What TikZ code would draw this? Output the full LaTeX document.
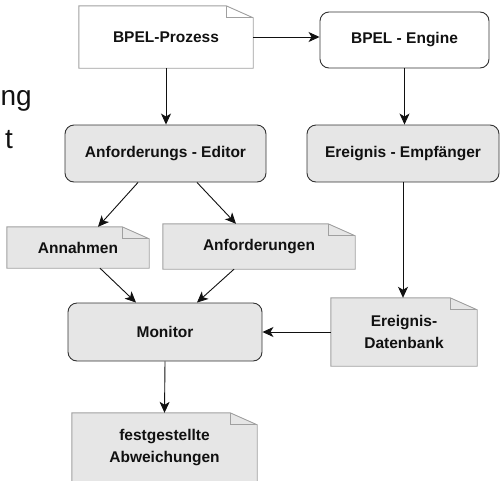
\documentclass[tikz,border=0pt]{standalone}
\usepackage{fontspec}
\setmainfont{Liberation Sans}
\usetikzlibrary{arrows.meta,backgrounds,positioning}

\definecolor{boxgray}{HTML}{E6E6E6}
\definecolor{docline}{HTML}{A0A0A0}
\definecolor{boxline}{HTML}{333333}
\definecolor{textdark}{HTML}{111111}

\tikzset{
  boxtext/.style={font=\fontsize{15.5}{22}\selectfont\bfseries, align=center, inner sep=0pt, text=textdark},
  roundbox/.style={boxtext, draw=boxline, line width=0.9pt, rounded corners=9pt, fill=boxgray},
  docbox/.style={boxtext},
  flow/.style={draw=textdark, line width=0.9pt, -{Stealth[length=11pt,width=10pt,inset=3pt]}}
}

\begin{document}
\begin{tikzpicture}[x=1pt,y=-1pt]

\useasboundingbox (0,0) rectangle (500,480);

%------------------------
% Cut-off slide text (left)
%------------------------
\node[font=\fontsize{28}{34}\selectfont, text=textdark, anchor=base east, inner sep=0pt] (cutng) at (32,105) {ng};
\node[font=\fontsize{28}{34}\selectfont, text=textdark, anchor=base east, inner sep=0pt] (cutt) at (13,148) {t};

%------------------------
% Rounded boxes
%------------------------
\node[roundbox, fill=white, minimum width=169pt, minimum height=56pt] (engine) at (404.5,40) {BPEL - Engine};
\node[roundbox, minimum width=201pt, minimum height=57pt] (editor) at (165.5,153.5) {Anforderungs - Editor};
\node[roundbox, minimum width=192pt, minimum height=57pt] (empfaenger) at (403,153.5) {Ereignis - Empfänger};
\node[roundbox, minimum width=194pt, minimum height=58pt] (monitor) at (165,332) {Monitor};

%------------------------
% Documents (folded corner drawn below)
%------------------------
\node[docbox, minimum width=174pt, minimum height=62pt] (prozess) at (166,37) {BPEL-Prozess};
\node[docbox, minimum width=142pt, minimum height=41pt] (annahmen) at (78,247.5) {Annahmen};
\node[docbox, minimum width=192pt, minimum height=45pt] (anforderungen) at (259,246.5) {Anforderungen};
\node[docbox, minimum width=146pt, minimum height=68pt] (datenbank) at (404,332) {Ereignis-\\Datenbank};
\node[docbox, minimum width=185pt, minimum height=70pt] (abweichungen) at (164.5,448) {festgestellte\\Abweichungen};

\begin{scope}[on background layer]
\foreach \d/\c in {prozess/white, annahmen/boxgray, anforderungen/boxgray, datenbank/boxgray, abweichungen/boxgray}{
  \filldraw[fill=\c, draw=docline, line width=0.9pt]
    (\d.south west) -- (\d.north west) -- ([xshift=-27pt]\d.north east)
    -- ([yshift=-12pt]\d.north east) -- (\d.south east) -- cycle;
  \draw[docline, line width=0.9pt]
    ([xshift=-27pt]\d.north east) -- ([xshift=-27pt,yshift=-12pt]\d.north east)
    -- ([yshift=-12pt]\d.north east);
}
\end{scope}

%------------------------
% Connectors
%------------------------
\draw[flow] (prozess.east) -- (prozess.east -| engine.west);
\draw[flow] (prozess.south) -- (prozess.south |- editor.north);
\draw[flow] (engine.south) -- (engine.south |- empfaenger.north);

\draw[flow] ([xshift=-27.5pt]editor.south) -- ([xshift=20pt]annahmen.north);
\draw[flow] ([xshift=31.5pt]editor.south) -- ([xshift=-23pt]anforderungen.north);

\draw[flow] ([xshift=22pt]annahmen.south) -- ([xshift=-29pt]monitor.north);
\draw[flow] ([xshift=-25pt]anforderungen.south) -- ([xshift=32pt]monitor.north);

\draw[flow] (empfaenger.south) -- (empfaenger.south |- datenbank.north);
\draw[flow] (datenbank.west) -- (monitor.east);
\draw[flow] (monitor.south) -- (abweichungen.north);

\end{tikzpicture}
\end{document}
